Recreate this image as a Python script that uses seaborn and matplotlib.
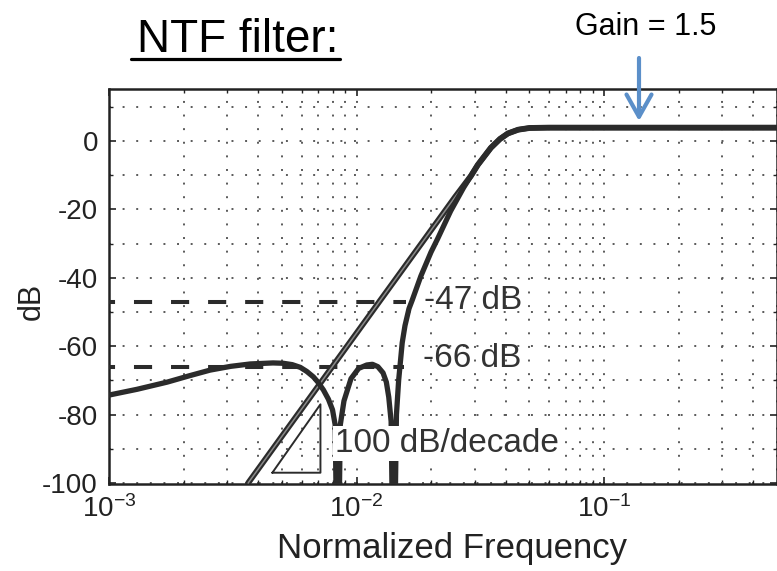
import matplotlib
matplotlib.use("Agg")
import matplotlib.pyplot as plt
import seaborn as sns
import pandas as pd
from matplotlib.lines import Line2D
from matplotlib.ticker import LogLocator, FixedLocator, NullFormatter

# ---- data ----
# pure-differentiator NTF (straight 100 dB/decade line)
freq_line = [0.00365, 0.0050, 0.0070, 0.0100, 0.0125, 0.0150, 0.0200, 0.0250,
             0.0290, 0.0309, 0.0349, 0.0380, 0.0409, 0.0450, 0.0500, 0.0600, 0.5]
db_line = [-100, -86.3, -71.7, -56.2, -46.5, -38.6, -26.1, -16.4,
           -10.2, -7.0, -2.0, 0.6, 2.2, 3.3, 3.8, 3.9, 3.9]

# optimized-zero NTF (with notches)
freq_opt = [0.0010, 0.0013, 0.00172, 0.0021, 0.00256, 0.0031, 0.00372, 0.0046,
            0.00506, 0.0055, 0.00593, 0.0063, 0.0067, 0.0070, 0.00735, 0.0077,
            0.0080, 0.0082, 0.0084, 0.0086, 0.0089, 0.0095, 0.0102, 0.0110,
            0.0116, 0.0122, 0.0128, 0.0132, 0.0135, 0.0138, 0.01413, 0.0145,
            0.0148, 0.0153, 0.0157, 0.0163, 0.0168, 0.0182, 0.0200, 0.0213,
            0.0240, 0.0271, 0.0290, 0.0309, 0.0349, 0.0380, 0.0409, 0.0450,
            0.0500, 0.0600, 0.5]
db_opt = [-74.3, -72.6, -70.5, -68.7, -67.0, -65.9, -65.2, -64.9,
          -65.0, -65.4, -66.2, -67.4, -69.0, -70.6, -72.8, -75.5,
          -78.6, -83.0, -140.0, -83.0, -76.0, -69.5, -66.5, -65.5,
          -65.3, -66.0, -67.8, -70.5, -74.9, -82.0, -140.0, -80.0,
          -70.0, -59.0, -54.0, -49.0, -46.5, -39.5, -32.5, -28.5,
          -20.5, -13.6, -10.2, -7.0, -2.0, 0.6, 2.2, 3.3,
          3.8, 3.9, 3.9]

dash_levels = [-47, -66]
dash_labels = ["-47 dB", "-66 dB"]
dash_end_freq = [0.0158, 0.0155]
label_freq = [0.0187, 0.0185]
label_db = [-46.5, -63.5]

tri_freq = [0.00457, 0.00715, 0.00715, 0.00457]
tri_db = [-97, -97, -77, -97]
slope_label = "100 dB/decade"

y_ticks = [0, -20, -40, -60, -80, -100]
y_minor = [-90, -70, -50, -30, -10, 10]
x_lim = (1e-3, 0.5)
y_lim = (-100.3, 15.2)

# ---- styling ----
sns.set_theme(style="ticks")
plt.rcParams["font.family"] = ["Liberation Sans", "DejaVu Sans"]
plt.rcParams["mathtext.fontset"] = "custom"
plt.rcParams["mathtext.rm"] = "Liberation Sans"
plt.rcParams["mathtext.it"] = "Liberation Sans:italic"
plt.rcParams["mathtext.bf"] = "Liberation Sans:bold"
plt.rcParams["axes.unicode_minus"] = False

W, H = 777, 571
fig = plt.figure(figsize=(W / 100, H / 100), dpi=100)
ax = fig.add_axes([109 / W, 1 - 484 / H, 668 / W, (484 - 89) / H])

dark = "#2b2b2b"
df_line = pd.DataFrame({"f": freq_line, "db": db_line})
df_opt = pd.DataFrame({"f": freq_opt, "db": db_opt})

# dashed reference levels
for lvl, fend in zip(dash_levels, dash_end_freq):
    ax.plot([x_lim[0], fend], [lvl, lvl], color=dark, lw=2.9,
            linestyle=(3, (4.5, 4.7)), solid_capstyle="butt", zorder=3)

sns.lineplot(data=df_line, x="f", y="db", ax=ax, color=dark, lw=4.2,
             sort=False, estimator=None, zorder=4)
# hollow look of the straight line
ax.plot(freq_line[:9], db_line[:9], color="#8a8a8a", lw=1.1, zorder=4.5)
sns.lineplot(data=df_opt, x="f", y="db", ax=ax, color=dark, lw=3.8,
             sort=False, estimator=None, zorder=5)

ax.plot(tri_freq, tri_db, color=dark, lw=1.4, zorder=4)

for lab, fx, dy in zip(dash_labels, label_freq, label_db):
    ax.text(fx, dy, lab, fontsize=24, color="#333333", ha="left", va="center",
            zorder=6)
ax.text(0.00822, -88.5, slope_label, fontsize=24, color="#333333", ha="left",
        va="center", zorder=6,
        bbox=dict(facecolor="white", edgecolor="none", pad=1.5))

ax.set_xscale("log")
ax.set_xlim(*x_lim)
ax.set_ylim(*y_lim)
ax.set_yticks(y_ticks)
ax.yaxis.set_minor_locator(FixedLocator(y_minor))
ax.xaxis.set_major_locator(LogLocator(base=10, numticks=10))
ax.xaxis.set_minor_locator(LogLocator(base=10, subs=range(2, 10), numticks=20))
ax.xaxis.set_minor_formatter(NullFormatter())

ax.grid(True, which="both", color="#5a5a5a", linestyle=(0, (1, 6)), lw=1.4)
ax.set_axisbelow(True)
for s in ax.spines.values():
    s.set_color("#222222")
    s.set_linewidth(1.8)
ax.tick_params(which="both", direction="in", top=True, right=True,
               colors="#222222", labelsize=20, labelcolor="#222222")
ax.tick_params(which="major", length=5, width=1.2, pad=8)
ax.tick_params(which="minor", length=3, width=1.0)

ax.set_xlabel("Normalized Frequency", fontsize=25, color="#222222")
ax.xaxis.set_label_coords((452 - 109) / 668, -0.122)
ax.set_ylabel("dB", fontsize=22, color="#222222")
ax.yaxis.set_label_coords((47 - 109) / 668, (484 - 301) / 395)

# title and gain annotation
fig.text(137 / W, 1 - 52 / H, "NTF filter:", fontsize=33, color="black",
         ha="left", va="baseline")
fig.add_artist(Line2D([131 / W, 340 / W], [1 - 58.5 / H] * 2, lw=2.3,
                      color="black"))
fig.text(575 / W, 1 - 35 / H, "Gain = 1.5", fontsize=22, color="black",
         ha="left", va="baseline")
ax.annotate("", xy=(639 / W, 1 - 121 / H), xytext=(639 / W, 1 - 58 / H),
            xycoords="figure fraction", textcoords="figure fraction",
            arrowprops=dict(arrowstyle="->,head_length=0.8,head_width=0.45",
                            lw=3, color="#5b8fc9", shrinkA=0, shrinkB=0,
                            mutation_scale=20),
            annotation_clip=False, zorder=10)

fig.savefig("out.png", dpi=100)
